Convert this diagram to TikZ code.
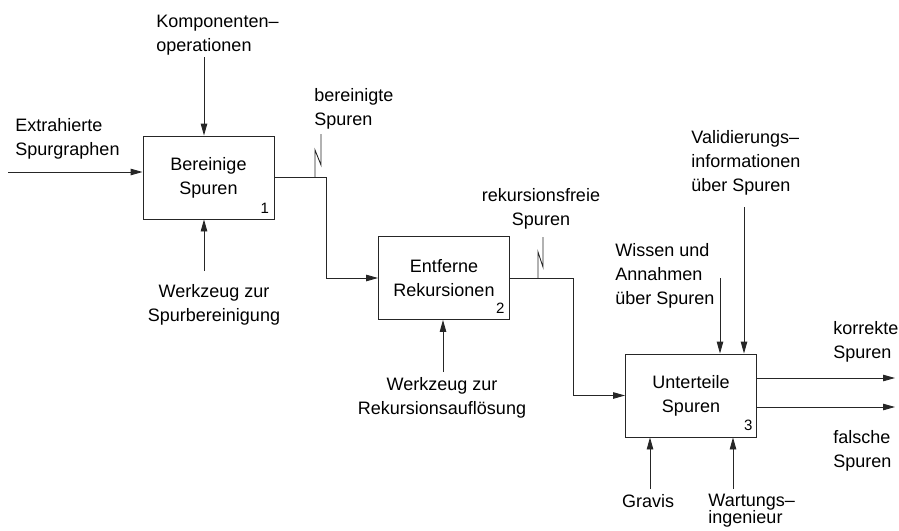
\documentclass[tikz,border=0pt]{standalone}
\usepackage{fontspec}
\setmainfont{Liberation Sans}
\usetikzlibrary{arrows.meta,calc}

\begin{document}
\begin{tikzpicture}[x=1pt,y=-1pt,
  font=\fontsize{18}{24}\selectfont,
  line width=0.9pt, draw=black!85,
  activity/.style={draw, minimum width=131pt, minimum height=83pt, align=center, inner sep=0pt},
  lbl/.style={inner sep=0pt, align=left, anchor=north west},
  clbl/.style={inner sep=0pt, align=center, anchor=north},
  num/.style={inner sep=0pt, anchor=south east, font=\fontsize{15}{15}\selectfont},
  flow/.style={-{Triangle[length=12pt,width=6.5pt]}},
]
\useasboundingbox (0,0) rectangle (899,530);

% activity boxes
\node[activity] (b1) at (208.5,177.5) {Bereinige\\Spuren};
\node[activity] (b2) at (444,278) {Entferne\\Rekursionen};
\node[activity] (b3) at (691,395.5) {Unterteile\\Spuren};
\node[num] (n1) at ($(b1.south east)+(-5,-6)$) {1};
\node[num] (n2) at ($(b2.south east)+(-5,-6)$) {2};
\node[num] (n3) at ($(b3.south east)+(-4,-6)$) {3};

% labels
\node[lbl] (lkomp) at (156,15) {Komponenten–\\operationen};
\node[lbl] (lextr) at (15,118) {Extrahierte\\Spurgraphen};
\node[lbl] (lbere) at (314,88) {bereinigte\\Spuren};
\node[clbl] (lrekf) at (541,188) {rekursionsfreie\\Spuren};
\node[lbl] (lvali) at (691,130) {Validierungs–\\informationen\\über Spuren};
\node[lbl] (lwiss) at (615,243) {Wissen und\\Annahmen\\über Spuren};
\node[clbl] (lwz1) at (214,284) {Werkzeug zur\\Spurbereinigung};
\node[clbl] (lwz2) at (442,377) {Werkzeug zur\\Rekursionsauflösung};
\node[lbl] (lkorr) at (833,321) {korrekte\\Spuren};
\node[lbl] (lfals) at (833,430) {falsche\\Spuren};
\node[clbl] (lgrav) at (648,494) {Gravis};
\node[lbl, font=\fontsize{18}{17}\selectfont] (lwart) at (708,494) {Wartungs–\\ingenieur};

% free ends of the arrows
\coordinate (in1) at (8,172);
\coordinate (c1) at (204,57);
\coordinate (m1) at (204,271);
\coordinate (m2) at (443,372);
\coordinate (c3a) at (720,278);
\coordinate (c3b) at (744,207);
\coordinate (m3a) at (650,489);
\coordinate (m3b) at (733,489);
\coordinate (o1) at (895,378);
\coordinate (o2) at (895,407);
\coordinate (j1) at (326,177.5);
\coordinate (j2) at (573,278);

% inputs, controls, mechanisms
\draw[flow] (in1) -- (in1 -| b1.west);
\draw[flow] (c1) -- (c1 |- b1.north);
\draw[flow] (m1) -- (m1 |- b1.south);
\draw[flow] (m2) -- (m2 |- b2.south);
\draw[flow] (c3a) -- (c3a |- b3.north);
\draw[flow] (c3b) -- (c3b |- b3.north);
\draw[flow] (m3a) -- (m3a |- b3.south);
\draw[flow] (m3b) -- (m3b |- b3.south);

% flows between activities
\draw[flow] (b1.east |- j1) -- (j1) |- (b2.west);
\draw[flow] (b2.east) -- (j2) |- (b3.west);

% outputs
\draw[flow] (o1 -| b3.east) -- (o1);
\draw[flow] (o2 -| b3.east) -- (o2);

% label squiggles
\coordinate (t1) at (315,177.5);
\coordinate (t1top) at (321,134);
\draw (t1top) -- ++(0,31) -- ++(-6,-15) -- (t1);
\coordinate (t2) at (538,278);
\coordinate (t2top) at (543,237);
\draw (t2top) -- ++(0,30) -- ++(-5,-15) -- (t2);
\end{tikzpicture}
\end{document}
